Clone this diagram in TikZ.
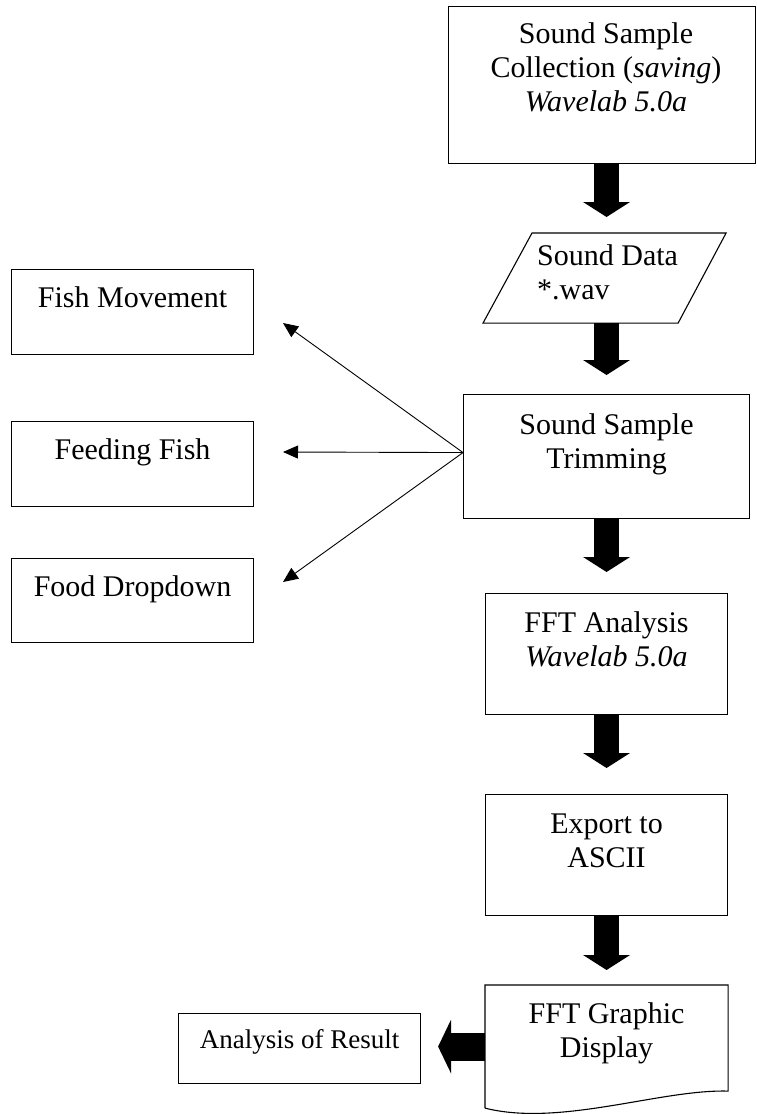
\documentclass[tikz,border=0pt]{standalone}
\usepackage{fontspec}
\setmainfont{Liberation Serif}
\usepackage{tikz}
\usetikzlibrary{arrows.meta,positioning}

\tikzset{
  box/.style={draw, line width=1.1pt, inner sep=0pt, anchor=north west},
  txt/.style={inner sep=0pt, align=center, font=\fontsize{30}{34}\selectfont},
  fat/.style={line width=25pt, -{Triangle[length=15pt,width=47pt,line width=0pt]}},
  fatleft/.style={line width=28pt, -{Triangle[length=13pt,width=54pt,line width=0pt]}},
  thinarrow/.style={line width=0.9pt, -{Triangle[length=15pt,width=13pt]}}
}

\begin{document}
\begin{tikzpicture}[x=1pt,y=-1pt]
  \useasboundingbox (0,0) rectangle (756,1114);
  % main column
  \node[box, minimum width=307pt, minimum height=157pt] (collect) at (448,6) {};
  \node[box, draw=none, minimum width=242pt, minimum height=89pt] (data) at (483,233) {};
  \node[box, minimum width=286pt, minimum height=124pt] (trim) at (463,394) {};
  \node[box, minimum width=242pt, minimum height=121pt] (fft) at (485,593) {};
  \node[box, minimum width=242pt, minimum height=121pt] (export) at (485,794) {};
  \node[box, draw=none, minimum width=242pt, minimum height=122pt] (doc) at (485,985) {};
  % side column
  \node[box, minimum width=242pt, minimum height=85pt] (fish) at (11,269) {};
  \node[box, minimum width=242pt, minimum height=85pt] (feed) at (11,421) {};
  \node[box, minimum width=242pt, minimum height=84pt] (food) at (11,558) {};
  \node[box, minimum width=242pt, minimum height=70pt] (result) at (178,1013) {};

  \draw[line width=1.1pt] (data.south west) -- ([xshift=49pt]data.north west) -- (data.north east) -- ([xshift=-48pt]data.south east) -- cycle;
  \draw[line width=1.1pt] (doc.south west) -- (doc.north west) -- (doc.north east) -- ([yshift=17pt]doc.south east)
    .. controls ([xshift=-67pt,yshift=19pt]doc.south east) and ([xshift=75pt,yshift=-19pt]doc.south west) .. (doc.south west);

  % texts
  \node[txt, below=16pt of collect.north, xshift=4pt] (collect-t) {Sound Sample\\Collection (\textit{saving})\\\textit{Wavelab 5.0a}};
  \node[txt, anchor=north west, align=left] (data-t) at ([xshift=54pt,yshift=-11pt]data.north west) {Sound Data\\*.wav};
  \node[txt, below=19pt of trim.north] (trim-t) {Sound Sample\\Trimming};
  \node[txt, below=18pt of fft.north] (fft-t) {FFT Analysis\\\textit{Wavelab 5.0a}};
  \node[txt, below=20pt of export.north] (export-t) {Export to\\ASCII};
  \node[txt, below=17pt of doc.north] (doc-t) {FFT Graphic\\Display};
  \node[txt, below=17pt of fish.north] (fish-t) {Fish Movement};
  \node[txt, below=17pt of feed.north] (feed-t) {Feeding Fish};
  \node[txt, below=17pt of food.north] (food-t) {Food Dropdown};
  \node[txt, font=\fontsize{27}{30}\selectfont, below=16pt of result.north] (result-t) {Analysis of Result};

  % arrows
  \draw[fat, shorten >=16pt] (collect.south -| trim.north) -- (data.north -| trim.north);
  \draw[fat, shorten >=19pt] (data.south -| trim.north) -- (trim.north);
  \draw[fat, shorten >=21pt] (trim.south) -- (fft.north);
  \draw[fat, shorten >=26pt] (fft.south) -- (export.north);
  \draw[fat, shorten >=15pt] (export.south) -- (doc.north);
  \draw[fatleft, shorten >=17pt] (doc.west) -- (doc.west -| result.east);

  \coordinate (split) at ([yshift=4pt]trim.west);
  \coordinate (fish-tip) at (283,323);
  \coordinate (feed-tip) at (283,452);
  \coordinate (food-tip) at (283,582);
  \draw[thinarrow] (split) -- (fish-tip);
  \draw[thinarrow] (split) -- (feed-tip);
  \draw[thinarrow] (split) -- (food-tip);
\end{tikzpicture}
\end{document}
